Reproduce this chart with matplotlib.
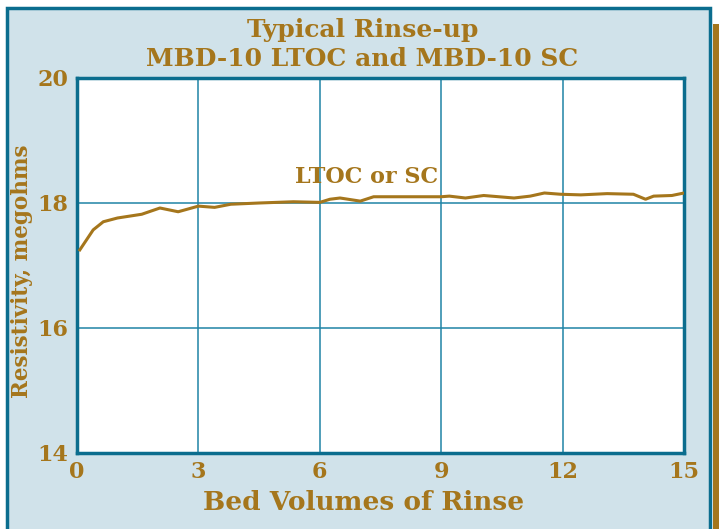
import matplotlib.pyplot as plt
from matplotlib.patches import Rectangle

# rinse-up curve
bed_volumes = [0.07, 0.4, 0.65, 1.0, 1.3, 1.6, 2.05, 2.5, 3.0, 3.4, 3.8, 4.5, 5.35, 6.0,
               6.25, 6.5, 7.0, 7.33, 8.2, 9.0, 9.2, 9.6, 10.05, 10.8, 11.2, 11.55, 11.95,
               12.45, 13.1, 13.75, 14.05, 14.25, 14.7, 15.0]
resistivity = [17.25, 17.57, 17.70, 17.76, 17.79, 17.82, 17.92, 17.86, 17.95, 17.93, 17.98,
               18.0, 18.02, 18.01, 18.06, 18.08, 18.03, 18.10, 18.10, 18.10, 18.11, 18.08,
               18.12, 18.08, 18.11, 18.16, 18.14, 18.13, 18.15, 18.14, 18.06, 18.11, 18.12,
               18.16]
x_ticks = [0, 3, 6, 9, 12, 15]
y_ticks = [14, 16, 18, 20]

gold = "#a5761c"
teal = "#0b6d8e"
grid_teal = "#1f84a6"
panel = "#d0e2ea"

W, H = 719, 529
fig = plt.figure(figsize=(W / 100, H / 100), dpi=100)
fig.patch.set_facecolor("white")

# light blue panel with teal border, and the gold strip on the right
fig.patches.append(Rectangle((7 / W, -0.05), (710 - 7) / W, 1.05 - 8 / H,
                             transform=fig.transFigure, facecolor=panel,
                             edgecolor=teal, linewidth=2.5, zorder=-10))
fig.patches.append(Rectangle((713 / W, 0), 8 / W, 1 - 24 / H,
                             transform=fig.transFigure, facecolor=gold,
                             edgecolor="none", zorder=-10))

ax = fig.add_axes([77 / W, 1 - 453 / H, 607 / W, (453 - 78) / H])
ax.set_zorder(5)
ax.set_facecolor("white")
ax.plot(bed_volumes, resistivity, color=gold, linewidth=2.2, zorder=3)
ax.set_xlim(0, 15)
ax.set_ylim(14, 20)
ax.set_xticks(x_ticks)
ax.set_yticks(y_ticks)
ax.grid(True, color=grid_teal, linewidth=1.1)
ax.tick_params(length=0, labelsize=16, labelcolor=gold, pad=6)
for lab in ax.get_xticklabels() + ax.get_yticklabels():
    lab.set_fontweight("bold")
    lab.set_fontfamily("DejaVu Serif")
for s in ax.spines.values():
    s.set_color(teal)
    s.set_linewidth(2.5)

font = dict(family="DejaVu Serif", fontweight="bold", color=gold)
ax.text(7.15, 18.42, "LTOC or SC", ha="center", va="center", fontsize=16, **font)
ax.set_xlabel("Bed Volumes of Rinse", fontsize=19, **font)
ax.xaxis.set_label_coords((364 - 77) / 607, -(503 - 453) / 375, transform=ax.transAxes)
ax.xaxis.label.set_va("center")
ax.set_ylabel("Resistivity, megohms", fontsize=15.5, **font)
ax.yaxis.set_label_coords(-(77 - 22) / 607, (453 - 271) / 375, transform=ax.transAxes)
ax.yaxis.label.set_va("center")

fig.text(0.5 + 3 / W, 1 - 30 / H, "Typical Rinse-up", ha="center", va="center",
         fontsize=18, **font)
fig.text(0.5 + 3 / W, 1 - 59 / H, "MBD-10 LTOC and MBD-10 SC", ha="center",
         va="center", fontsize=18, **font)

fig.savefig("out.png", dpi=100)
